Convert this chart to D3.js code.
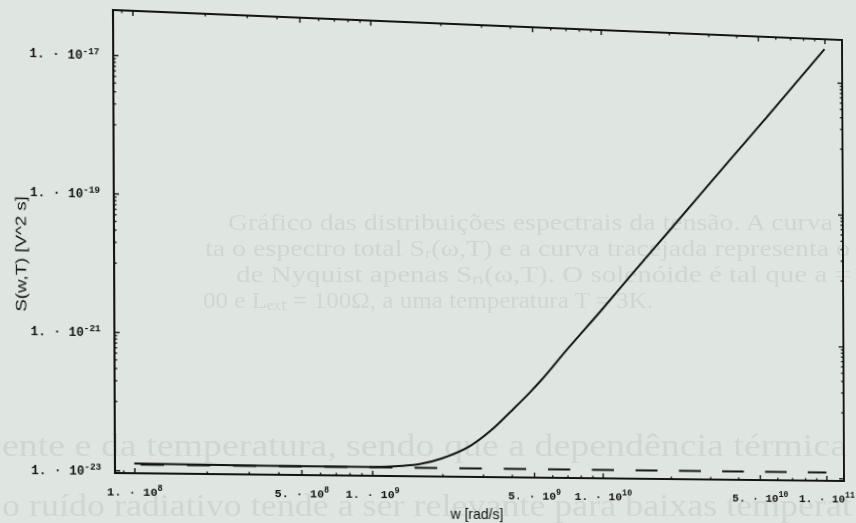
<!DOCTYPE html>
<html><head><meta charset="utf-8">
<script src="https://cdn.jsdelivr.net/npm/d3@7"></script>
<style>
html,body{margin:0;padding:0;background:#dfe6e1;overflow:hidden;width:856px;height:523px;}
#ghost,#chart{position:absolute;left:0;top:0;}
#ghost{filter:blur(0.7px);}
#chart{transform-origin:0 0;}
</style></head><body>
<svg id="ghost" width="856" height="523"></svg>
<svg id="chart" width="856" height="523"></svg>
<script>
// ---- data ----
const wTotal = [1e8, 5e8, 1e9, 1.35e9, 1.6e9, 2.0e9, 2.65e9, 3.25e9, 3.95e9, 4.8e9, 5.4e9, 7e9, 1e10, 1.36e10, 2e10, 3.76e10, 6e10, 1e11];
const sTotal = [1.26e-23, 1.23e-23, 1.23e-23, 1.29e-23, 1.38e-23, 1.70e-23, 2.63e-23, 4.47e-23, 8.51e-23, 1.66e-22, 2.57e-22, 7.41e-22, 3.02e-21, 1.05e-20, 4.90e-20, 6.17e-19, 3.98e-18, 3.16e-17];
const wNyquist = [1e8, 1e11];
const sNyquist = [1.22e-23, 1.22e-23];

const xMajor = [1e8, 5e8, 1e9, 5e9, 1e10, 5e10, 1e11];
const xMant = ["1.", "5.", "1.", "5.", "1.", "5.", "1."];
const xExp = ["8", "8", "9", "9", "10", "10", "11"];
const yMajor = [1e-17, 1e-19, 1e-21, 1e-23];
const yExp = ["-17", "-19", "-21", "-23"];
const xTitle = "w [rad/s]";
const yTitle = "S(w,T) [V^2 s]";

// ---- layout ----
const X0 = 113, X1 = 843, Y0 = 25, Y1 = 477;
const ink = "#141414";
const x = d3.scaleLog().domain([Math.pow(10, 7.92), Math.pow(10, 11.08)]).range([X0, X1]);
const y = d3.scaleLog().domain([Math.pow(10, -23.04), Math.pow(10, -16.35)]).range([Y1, Y0]);

// minor tick values (log sub-ticks)
const xMinor = [];
for (let e = 7; e <= 11; e++) for (let m = 1; m <= 9; m++) {
  const v = m * Math.pow(10, e);
  if (v >= x.domain()[0] && v <= x.domain()[1] && !xMajor.some(t => Math.abs(t - v) / v < 1e-9)) xMinor.push(v);
}
const yMinor = [];
yMajor.forEach(t => { for (let m = 1; m <= 9; m++) { const v = m * t / 10; if (v >= y.domain()[0] && v <= y.domain()[1]) yMinor.push(v); } });

const svg = d3.select("#chart");
const g = svg.append("g");

function styleAxis(sel) {
  sel.select(".domain").remove();
  sel.selectAll("line").attr("stroke", ink).attr("stroke-width", 1.4);
}
g.append("g").attr("transform", `translate(0,${Y1})`)
  .call(d3.axisBottom(x).tickValues(xMinor).tickSizeInner(-2.5).tickSizeOuter(0).tickFormat(""))
  .call(styleAxis);
g.append("g").attr("transform", `translate(0,${Y0})`)
  .call(d3.axisTop(x).tickValues(xMinor).tickSizeInner(-2.5).tickSizeOuter(0).tickFormat(""))
  .call(styleAxis);
g.append("g").attr("transform", `translate(0,${Y0})`)
  .call(d3.axisTop(x).tickValues(xMajor).tickSizeInner(-5).tickSizeOuter(0).tickFormat(""))
  .call(styleAxis);
g.append("g").attr("transform", `translate(${X0},0)`)
  .call(d3.axisLeft(y).tickValues(yMinor).tickSizeInner(-2.5).tickSizeOuter(0).tickFormat(""))
  .call(styleAxis);
g.append("g").attr("transform", `translate(${X1},0)`)
  .call(d3.axisRight(y).tickValues(yMinor).tickSizeInner(-2.5).tickSizeOuter(0).tickFormat(""))
  .call(styleAxis);
g.append("g").attr("transform", `translate(${X1},0)`)
  .call(d3.axisRight(y).tickValues(yMajor).tickSizeInner(-5).tickSizeOuter(0).tickFormat(""))
  .call(styleAxis);

const bx = g.append("g").attr("transform", `translate(0,${Y1})`)
  .call(d3.axisBottom(x).tickValues(xMajor).tickSizeInner(-5).tickSizeOuter(0).tickFormat(""))
  .call(styleAxis);
bx.selectAll(".tick text").each(function (d, i) {
  const t = d3.select(this).attr("y", 22).attr("dy", 0)
    .attr("fill", ink).attr("font-family", "'Liberation Mono', monospace").attr("font-weight", "bold").attr("font-size", 11.5);
  t.append("tspan").text(xMant[i] + " \u00b7 10");
  t.append("tspan").attr("dy", -5).attr("font-size", 8.5).text(xExp[i]);
});
const ly = g.append("g").attr("transform", `translate(${X0},0)`)
  .call(d3.axisLeft(y).tickValues(yMajor).tickSizeInner(-5).tickSizeOuter(0).tickPadding(13).tickFormat(""))
  .call(styleAxis);
ly.selectAll(".tick text").each(function (d, i) {
  const t = d3.select(this).attr("dy", "0.35em")
    .attr("fill", ink).attr("font-family", "'Liberation Mono', monospace").attr("font-weight", "bold").attr("font-size", 12);
  t.append("tspan").text("1. \u00b7 10");
  t.append("tspan").attr("dy", -5).attr("font-size", 9).text(yExp[i]);
});

// frame
g.append("rect").attr("x", X0).attr("y", Y0).attr("width", X1 - X0).attr("height", Y1 - Y0)
  .attr("fill", "none").attr("stroke", ink).attr("stroke-width", 2);

// curves
const line = d3.line().x(d => x(d[0])).y(d => y(d[1])).curve(d3.curveMonotoneX);
g.append("path").datum(d3.zip(wNyquist, sNyquist)).attr("d", line)
  .attr("fill", "none").attr("stroke", ink).attr("stroke-width", 2)
  .attr("stroke-dasharray", "22.5,22").attr("stroke-dashoffset", -6);
g.append("path").datum(d3.zip(wTotal, sTotal)).attr("d", line)
  .attr("fill", "none").attr("stroke", ink).attr("stroke-width", 2);

// ---- perspective of the photographed page (homography: frame rect -> quad) ----
const quad = [[113, 10], [842, 40], [844, 481], [115, 473]];
function sq2quad(p) {
  const [x0, y0] = p[0], [x1, y1] = p[1], [x2, y2] = p[2], [x3, y3] = p[3];
  const dx1 = x1 - x2, dx2 = x3 - x2, dx3 = x0 - x1 + x2 - x3;
  const dy1 = y1 - y2, dy2 = y3 - y2, dy3 = y0 - y1 + y2 - y3;
  const den = dx1 * dy2 - dx2 * dy1;
  const gg = (dx3 * dy2 - dx2 * dy3) / den, hh = (dx1 * dy3 - dx3 * dy1) / den;
  return [[x1 - x0 + gg * x1, x3 - x0 + hh * x3, x0], [y1 - y0 + gg * y1, y3 - y0 + hh * y3, y0], [gg, hh, 1]];
}
function mul(A, B) { return A.map((r, i) => [0, 1, 2].map(j => r[0] * B[0][j] + r[1] * B[1][j] + r[2] * B[2][j])); }
const Wd = X1 - X0, Hd = Y1 - Y0;
let M = mul(sq2quad(quad), [[1 / Wd, 0, -X0 / Wd], [0, 1 / Hd, -Y0 / Hd], [0, 0, 1]]);
const k = M[2][2]; M = M.map(r => r.map(v => v / k));
function inv3(m) {
  const [a, b, c] = m[0], [d, e, f] = m[1], [gq, h, i] = m[2];
  const A = e * i - f * h, B = -(d * i - f * gq), C = d * h - e * gq;
  const det = a * A + b * B + c * C;
  return [[A / det, -(b * i - c * h) / det, (b * f - c * e) / det],
          [B / det, (a * i - c * gq) / det, -(a * f - c * d) / det],
          [C / det, -(a * h - b * gq) / det, (a * e - b * d) / det]];
}
const Mi = inv3(M);
function proj(m, px, py) { const w = m[2][0] * px + m[2][1] * py + m[2][2]; return [(m[0][0] * px + m[0][1] * py + m[0][2]) / w, (m[1][0] * px + m[1][1] * py + m[1][2]) / w]; }
svg.style("transform", `matrix3d(${M[0][0]},${M[1][0]},0,${M[2][0]},${M[0][1]},${M[1][1]},0,${M[2][1]},0,0,1,0,${M[0][2]},${M[1][2]},0,${M[2][2]})`);

// axis titles (placed at their photographed positions)
const pX = proj(Mi, 477, 519);
g.append("text").attr("x", pX[0]).attr("y", pX[1]).attr("text-anchor", "middle")
  .attr("font-family", "'Liberation Sans', Arial, sans-serif").attr("font-size", 14).attr("fill", ink)
  .text(xTitle);
const pY = proj(Mi, 26, 254);
g.append("text").attr("transform", `translate(${pY[0]},${pY[1]}) rotate(-90)`).attr("text-anchor", "middle")
  .attr("font-family", "'Liberation Sans', Arial, sans-serif").attr("font-size", 14).attr("fill", ink)
  .attr("textLength", 112).attr("lengthAdjust", "spacingAndGlyphs")
  .text(yTitle);

// ---- faint show-through of the facing page ----
const ghostLines = [
  [228, 230, 24, 605, "Gráfico das distribuições espectrais da tensão.  A curva"],
  [205, 256, 24, 645, "ta o espectro total S\u1d63(ω,T) e a curva tracejada representa o"],
  [236, 282, 24, 615, "de Nyquist apenas S\u2099(ω,T).  O solenóide é tal que a ="],
  [203, 308, 24, 450, "00 e Lₑₓₜ = 100Ω, a uma temperatura T = 3K."],
  [2, 456, 31, 845, "ente e da temperatura, sendo que a dependência térmica"],
  [2, 516, 31, 850, "o ruído radiativo tende a ser relevante para baixas temperat"]
];
d3.select("#ghost").selectAll("text").data(ghostLines).join("text")
  .attr("x", d => d[0]).attr("y", d => d[1])
  .attr("font-family", "'Liberation Serif', serif").attr("font-size", d => d[2]).attr("fill", "#cfd7d2")
  .attr("textLength", d => d[3]).attr("lengthAdjust", "spacingAndGlyphs")
  .text(d => d[4]);
</script>
</body></html>
